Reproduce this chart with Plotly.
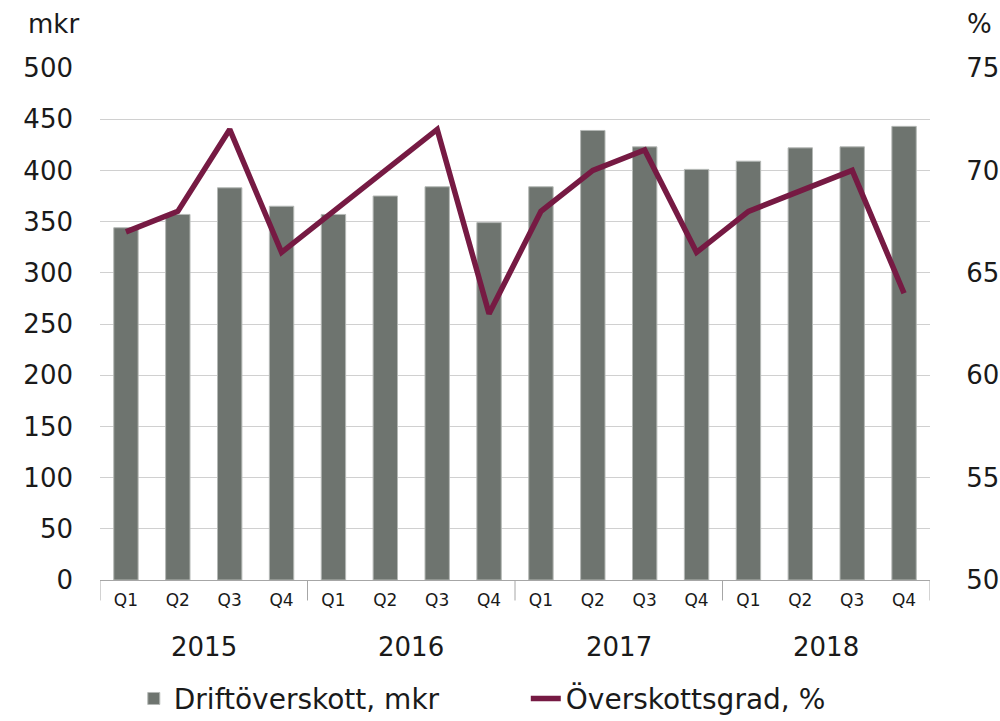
import plotly.graph_objects as go

years = ["2015", "2016", "2017", "2018"]
quarters = ["Q1", "Q2", "Q3", "Q4"]
drift = [344, 357, 383, 365, 357, 375, 384, 349, 384, 439, 423, 401, 409, 422, 423, 443]
grad = [67, 68, 72, 66, 68, 70, 72, 63, 68, 70, 71, 66, 68, 69, 70, 64]

n = len(drift)
xs = list(range(n))
qlabels = [quarters[i % 4] for i in xs]

FONT = "DejaVu Sans, Verdana, sans-serif"
TXT = "#1a1a1a"
BAR = "#6e746f"
LINE = "#761a43"

fig = go.Figure()
fig.add_trace(go.Bar(
    x=xs, y=drift, name="Driftöverskott, mkr",
    marker=dict(color=BAR, line=dict(color="#b4b8b5", width=1)),
    width=0.47,
))
fig.add_trace(go.Scatter(
    x=xs, y=grad, name="Överskottsgrad, %", yaxis="y2", mode="lines",
    line=dict(color=LINE, width=5.5),
))

shapes = []
for k in range(len(years) + 1):
    bx = 4 * k - 0.5
    shapes.append(dict(type="line", xref="x", yref="paper", x0=bx, x1=bx, y0=0, y1=-0.04,
                       line=dict(color="#a6a6a6", width=1)))

annotations = []
for k, yr in enumerate(years):
    cx = sum(xs[4 * k:4 * k + 4]) / 4
    annotations.append(dict(x=cx, y=0, xref="x", yref="paper", yanchor="top", yshift=-50,
                            text=yr, showarrow=False,
                            font=dict(family=FONT, size=26, color=TXT)))
annotations.append(dict(x=0, y=1, xref="paper", yref="paper", xanchor="right", yanchor="bottom",
                        xshift=-19, yshift=27, text="mkr", showarrow=False,
                        font=dict(family=FONT, size=26, color=TXT)))
annotations.append(dict(x=1, y=1, xref="paper", yref="paper", xanchor="left", yanchor="bottom",
                        xshift=35, yshift=27, text="%", showarrow=False,
                        font=dict(family=FONT, size=26, color=TXT)))

fig.update_layout(
    width=1000, height=721,
    margin=dict(l=100, r=70, t=68, b=141, autoexpand=False),
    paper_bgcolor="white", plot_bgcolor="white",
    showlegend=True,
    legend=dict(orientation="h", x=0.513, xanchor="center", y=-0.232, yanchor="middle",
                font=dict(family=FONT, size=28, color=TXT), traceorder="normal",
                entrywidth=347, entrywidthmode="pixels", tracegroupgap=0),
    xaxis=dict(range=[-0.5, n - 0.5], tickvals=xs, ticktext=qlabels,
               tickfont=dict(family=FONT, size=17, color=TXT),
               showline=True, linecolor="#a6a6a6", linewidth=1, showgrid=False,
               zeroline=False, ticks="", ticklabelstandoff=5, automargin=False),
    yaxis=dict(range=[0, 500], dtick=50, showgrid=True, gridcolor="#d0d0d0", gridwidth=1,
               zeroline=False, showline=False, ticks="", automargin=False,
               tickfont=dict(family=FONT, size=26, color=TXT), ticklabelstandoff=26),
    yaxis2=dict(range=[50, 75], dtick=5, overlaying="y", side="right", showgrid=False,
                zeroline=False, showline=False, ticks="outside", ticklen=30,
                tickcolor="rgba(0,0,0,0)", automargin=False,
                tickfont=dict(family=FONT, size=26, color=TXT)),
    shapes=shapes, annotations=annotations,
)

fig.write_html("out.html", config={"displayModeBar": False},
               post_script="document.body.style.margin='0';document.body.style.overflow='hidden';")
